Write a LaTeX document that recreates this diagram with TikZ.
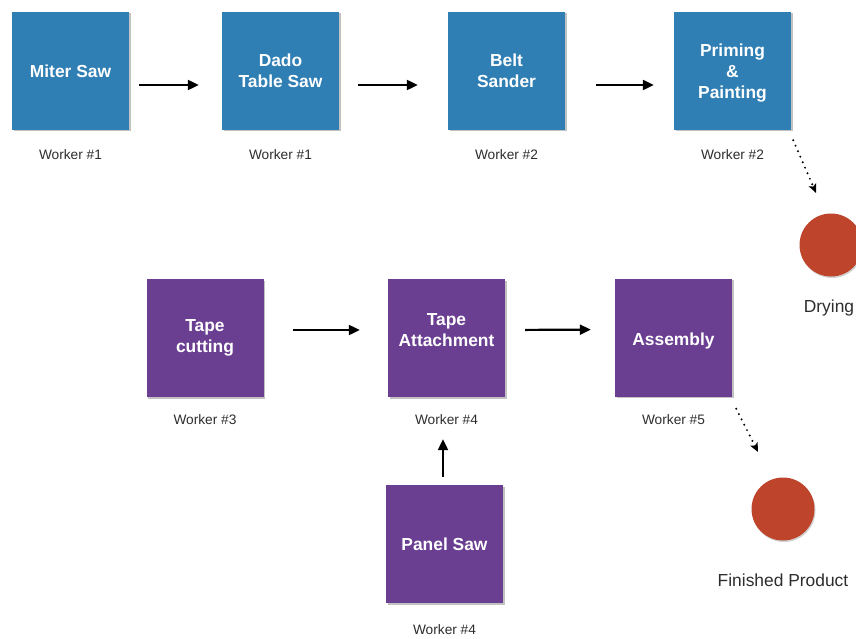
\documentclass[tikz,border=0pt]{standalone}
\usepackage{fontspec}
\setmainfont{Liberation Sans}
\usetikzlibrary{arrows.meta,shadows,calc}
\definecolor{boxblue}{RGB}{47,126,180}
\definecolor{boxpurple}{RGB}{106,62,145}
\definecolor{dotred}{RGB}{190,68,44}
\definecolor{lbl}{RGB}{45,45,45}
\tikzset{
  stepbox/.style={rectangle, minimum width=117pt, minimum height=118pt, inner sep=0pt,
    text=white, align=center, font=\fontsize{17.4}{21}\selectfont\bfseries,
    drop shadow={shadow xshift=1.5pt, shadow yshift=-1.5pt, opacity=0.4, fill=black!60}},
  bluebox/.style={stepbox, fill=boxblue},
  purplebox/.style={stepbox, fill=boxpurple},
  worker/.style={font=\fontsize{13.7}{16}\selectfont, text=lbl, inner sep=0pt},
  endlabel/.style={font=\fontsize{17.4}{20}\selectfont, text=lbl, inner sep=0pt},
  enddot/.style={circle, fill=dotred, minimum size=63pt, inner sep=0pt,
    drop shadow={shadow xshift=1pt, shadow yshift=-1.5pt, opacity=0.3, fill=black!60}},
  arr/.style={line width=2.2pt, -{Triangle[length=11pt,width=10pt]}},
  dotarr/.style={line width=2.2pt, line cap=round, dash pattern=on 0pt off 6pt,
    -{Stealth[length=9pt,width=8pt,inset=2pt]}},
}
\begin{document}
\begin{tikzpicture}[x=1pt,y=-1pt]
\useasboundingbox (0,0) rectangle (856,639);
\begin{scope}
\clip (0,0) rectangle (856,639);
% blue row
\node[bluebox] (miter) at (70.5,71) {Miter Saw};
\node[bluebox] (dado) at (280.5,71) {Dado\\Table Saw};
\node[bluebox] (belt) at (506.5,71) {Belt\\Sander};
\node[bluebox] (prime) at (732.5,71) {\rule{0pt}{16.5pt}Priming\\\&\\Painting};
\node[worker] (w1) at (70.5,155) {Worker \#1};
\node[worker] (w2) at (280.5,155) {Worker \#1};
\node[worker] (w3) at (506.5,155) {Worker \#2};
\node[worker] (w4) at (732.5,155) {Worker \#2};
% purple row
\node[purplebox] (tapecut) at (205,338) {Tape\\cutting};
\node[purplebox] (tapeatt) at (446.5,338) {Tape\\Attachment\rule[-16pt]{0pt}{16pt}};
\node[purplebox] (assembly) at (673.5,337.5) {\rule{0pt}{19pt}Assembly};
\node[purplebox] (panel) at (444.5,544) {Panel Saw};
\node[worker] (w5) at (205,420) {Worker \#3};
\node[worker] (w6) at (446.5,420) {Worker \#4};
\node[worker] (w7) at (673.5,420) {Worker \#5};
\node[worker] (w8) at (444.5,630) {Worker \#4};
% end circles
\node[enddot] (drying) at (831,245) {};
\node[endlabel] (dryl) at (829,308) {Drying};
\node[enddot] (finished) at (783,509) {};
\node[endlabel] (finl) at (783,580) {Finished Product};
% arrows
\draw[arr, shorten <=10pt, shorten >=23pt] ([yshift=-14pt]miter.east) -- ([yshift=-14pt]dado.west);
\draw[arr, shorten <=19pt, shorten >=30pt] ([yshift=-14pt]dado.east) -- ([yshift=-14pt]belt.west);
\draw[arr, shorten <=31pt, shorten >=20pt] ([yshift=-14pt]belt.east) -- ([yshift=-14pt]prime.west);
\draw[arr, shorten <=29pt, shorten >=28pt] ([yshift=8pt]tapecut.east) -- ([yshift=8pt]tapeatt.west);
\draw[arr, shorten <=20pt, shorten >=24pt] ([yshift=8pt]tapeatt.east) -- ([yshift=8pt]assembly.west);
\draw[arr, shorten <=8pt, shorten >=42pt] ([xshift=-1.5pt]panel.north) -- ([xshift=-1.5pt]panel.north |- tapeatt.south);
\draw[dotarr] ($(prime.south east)+(2,10)$) -- ($(drying.center)+(-15,-52)$);
\draw[dotarr] ($(assembly.south east)+(4,12)$) -- ($(finished.center)+(-25,-57)$);
\end{scope}
\end{tikzpicture}
\end{document}
